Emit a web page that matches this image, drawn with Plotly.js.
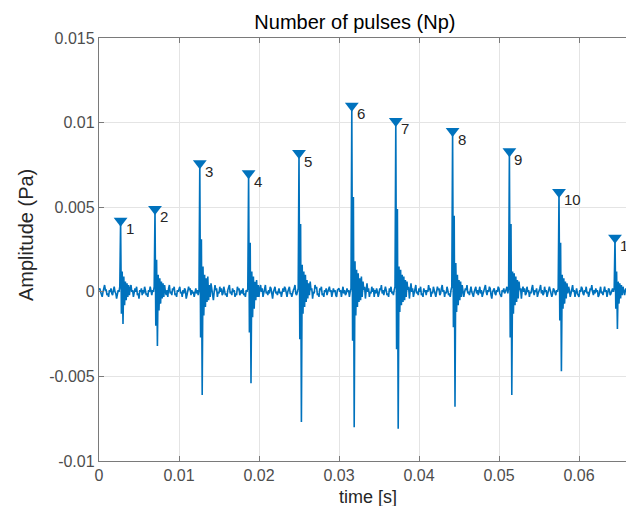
<!DOCTYPE html>
<html>
<head>
<meta charset="utf-8">
<script src="https://cdn.plot.ly/plotly-3.0.1.min.js"></script>
<style>
html, body { margin: 0; padding: 0; overflow: hidden; background: #fff; }
#chart { width: 680px; height: 506px; }
</style>
</head>
<body>
<div id="chart"></div>
<script>
// Sampling interval of the recorded signal (s)
const sampleInterval = 0.0001;

const amplitude_mPa = [
  0.1,0.2,0.0,-0.1,-0.3,0.0,0.2,0.4,0.1,0.1,-0.2,-0.1,-0.3,0.1,0.0,0.2,-0.1,-0.2,0.1,0.3,
  0.0,-0.1,-0.4,-0.1,0.1,0.0,0.3,4.2,-1.3,1.2,-1.9,0.9,-0.8,0.6,-0.5,0.5,-0.3,0.4,-0.2,0.2,
  0.4,0.0,0.1,-0.3,-0.1,0.2,0.0,0.3,-0.2,-0.1,-0.4,0.1,0.0,0.2,-0.2,0.1,-0.1,0.3,0.1,-0.2,
  -0.1,-0.3,0.1,0.0,0.3,-0.1,-0.2,0.1,0.0,0.3,4.9,-2.0,1.9,-3.2,1.0,-1.1,0.8,-0.7,0.6,-0.4,
  0.5,-0.3,0.4,0.0,-0.2,0.1,-0.3,0.2,0.4,-0.1,0.0,-0.2,0.2,0.1,0.3,-0.2,-0.1,-0.3,0.1,0.0,
  0.2,0.3,-0.1,0.0,-0.3,0.1,-0.1,0.2,0.1,-0.4,-0.2,0.0,0.3,0.1,0.2,-0.2,0.1,-0.1,0.0,-0.3,
  0.1,0.2,-0.1,0.1,-0.2,0.1,7.6,-2.7,3.1,-6.1,1.5,-1.4,1.0,-0.9,0.8,-0.6,0.9,-0.5,0.4,-0.3,
  0.5,0.1,-0.2,-0.5,0.0,0.4,0.1,0.2,-0.3,0.0,-0.1,0.3,0.0,0.2,-0.2,-0.1,0.3,0.0,-0.2,-0.1,
  -0.3,0.1,0.2,0.4,-0.1,0.0,-0.2,0.2,0.0,0.1,-0.3,-0.1,-0.2,0.3,0.1,0.2,-0.2,0.0,0.1,-0.1,
  0.2,-0.2,-0.1,-0.3,0.1,0.0,0.2,7.0,-2.4,2.9,-5.4,1.2,-1.5,0.9,-1.0,0.6,-0.5,0.7,-0.3,0.4,
  -0.3,0.2,0.4,0.0,0.2,-0.3,-0.1,0.1,0.4,-0.1,0.0,-0.2,0.1,-0.1,0.3,0.2,-0.2,-0.4,0.0,0.1,
  0.3,-0.1,0.0,-0.2,0.1,0.2,-0.1,0.0,-0.3,-0.1,0.2,0.0,0.3,0.2,-0.1,-0.3,0.0,0.1,0.3,-0.1,
  -0.1,-0.3,0.0,0.1,0.2,0.4,-0.1,-0.2,0.0,0.2,8.2,-2.8,4.0,-7.7,1.6,-1.3,1.2,-0.9,1.0,-0.6,
  0.7,-0.4,0.5,-0.2,0.6,0.1,0.2,-0.4,0.0,-0.1,0.4,0.2,0.3,-0.2,-0.1,-0.3,0.2,0.1,0.3,-0.2,
  -0.1,-0.3,0.1,0.0,0.2,-0.2,0.0,0.1,0.3,0.0,0.1,-0.3,-0.1,0.2,0.0,0.1,-0.2,-0.3,0.1,0.2,
  0.2,0.0,0.1,-0.3,0.0,0.3,-0.1,0.1,-0.2,-0.1,0.2,0.0,0.1,-0.3,0.0,0.2,11.0,-2.9,5.6,-8.0,
  1.8,-1.4,1.3,-0.9,1.1,-0.6,0.8,-0.5,0.9,-0.3,0.6,0.1,0.3,-0.4,0.1,0.5,0.0,0.2,-0.3,0.0,
  -0.1,0.3,0.0,0.2,-0.3,0.1,-0.1,0.2,0.0,-0.3,-0.1,0.2,0.1,0.4,-0.1,0.1,-0.2,0.0,0.3,0.1,
  -0.2,-0.1,-0.3,0.2,0.0,0.3,-0.1,0.0,-0.2,0.1,0.3,10.1,-3.4,4.9,-8.1,1.5,-1.2,1.3,-0.8,1.0,
  -0.6,0.9,-0.5,0.7,-0.3,0.6,0.1,0.3,-0.4,0.1,0.5,0.0,0.2,-0.3,-0.1,0.2,0.4,-0.1,0.0,-0.2,
  0.2,0.0,0.3,-0.2,-0.1,-0.3,0.2,0.0,0.1,-0.2,0.1,0.0,0.4,0.1,0.2,-0.3,0.0,-0.1,0.3,0.1,
  -0.1,-0.3,0.0,0.3,0.1,0.2,-0.2,-0.1,0.2,0.4,0.0,0.1,-0.3,0.0,-0.1,0.3,0.1,-0.2,-0.1,-0.3,
  0.1,0.3,9.5,-2.1,4.5,-6.8,1.7,-1.2,1.0,-0.8,0.7,-0.5,0.6,-0.3,0.4,0.1,-0.3,0.0,0.2,0.1,
  0.4,-0.1,0.0,-0.2,0.1,0.3,0.0,-0.1,-0.3,0.0,0.2,0.3,-0.1,0.1,-0.2,0.0,0.3,-0.1,0.1,-0.3,
  -0.1,0.1,0.2,0.4,0.0,-0.2,0.1,0.0,0.3,0.2,-0.2,-0.4,0.0,0.1,0.2,-0.1,-0.2,0.1,0.0,0.3,
  0.2,-0.1,-0.2,-0.3,0.1,0.0,0.2,-0.1,0.0,0.2,0.3,-0.1,0.2,8.3,-2.7,4.0,-6.1,1.2,-1.3,1.1,
  -0.8,0.9,-0.6,0.7,-0.4,0.6,0.1,0.2,-0.4,0.1,0.3,0.0,0.2,-0.2,-0.1,0.3,0.0,0.1,-0.3,0.0,
  -0.1,0.2,0.4,0.0,-0.2,0.1,0.0,0.2,-0.3,-0.1,0.0,0.2,0.4,-0.1,0.1,-0.2,-0.1,0.3,0.0,0.1,
  -0.3,0.0,0.1,0.3,0.1,0.0,-0.3,-0.1,0.2,0.1,-0.1,-0.2,0.1,0.0,0.2,5.9,-1.7,2.9,-4.7,1.0,
  -1.0,0.8,-0.7,0.6,-0.4,0.5,-0.1,0.3,0.1,-0.3,-0.1,0.2,0.4,0.0,0.1,-0.3,0.0,0.2,-0.1,-0.2,
  -0.3,0.1,0.0,0.3,0.2,-0.1,-0.2,0.1,0.0,0.3,-0.1,0.0,-0.3,-0.1,0.2,0.1,0.4,0.0,-0.2,0.1,
  -0.1,0.2,0.0,0.1,-0.3,-0.2,0.1,0.3,-0.1,0.0,-0.2,0.1,0.3,0.0,0.1,-0.3,0.0,0.2,0.1,-0.2,
  -0.1,0.1,0.2,0.0,0.2,3.2,-1.0,1.2,-2.2,0.6,-0.7,0.5,-0.4,0.4,-0.2,0.3,0.0,-0.2,0.1,0.2,
  0.0,0.2,-0.2,0.1,0.0,0.3,-0.1,0.1,-0.2,0.0,0.2
];

// Detected pulses: sample index of each peak and its label
const peakIndex = [27, 70, 126, 187, 250, 316, 371, 442, 513, 575, 645];
const peakLabels = ["1","2","3","4","5","6","7","8","9","10","11"];

// Axis ticks
const xTickVals = [0, 0.01, 0.02, 0.03, 0.04, 0.05, 0.06];
const xTickText = ["0","0.01","0.02","0.03","0.04","0.05","0.06"];
const yTickVals = [-0.01, -0.005, 0, 0.005, 0.01, 0.015];
const yTickText = ["-0.01","-0.005","0","0.005","0.01","0.015"];

// Build series (unit conversion mPa -> Pa)
const time = amplitude_mPa.map((_, i) => +(i * sampleInterval).toFixed(5));
const amplitude = amplitude_mPa.map(v => v / 1000);
const peakTime = peakIndex.map(i => time[i]);
const peakAmp = peakIndex.map(i => amplitude[i]);

const blue = '#0072BD';
const font = 'Liberation Sans, Arial, Helvetica, sans-serif';

const traces = [
  {
    x: time, y: amplitude, type: 'scatter', mode: 'lines',
    line: { color: blue, width: 1.6 }, hoverinfo: 'skip', showlegend: false
  },
  {
    x: peakTime, y: peakAmp, type: 'scatter', mode: 'markers',
    marker: { symbol: 'triangle-down', size: 12, color: blue },
    hoverinfo: 'skip', showlegend: false
  }
];

const annotations = peakLabels.map((t, k) => ({
  x: peakTime[k], y: peakAmp[k], xref: 'x', yref: 'y',
  text: t, showarrow: false, xanchor: 'left', yanchor: 'middle',
  xshift: 3, yshift: -8,
  font: { family: font, size: 15, color: '#262626' }
}));

// Axis titles placed as in the reference
annotations.push({
  xref: 'paper', yref: 'paper', x: (368 - 99) / 560, y: (461 - 497) / 423,
  xanchor: 'center', yanchor: 'middle', showarrow: false,
  text: 'time [s]', font: { family: font, size: 18, color: '#262626' }
});
annotations.push({
  xref: 'paper', yref: 'paper', x: (26 - 99) / 560, y: (461 - 235) / 423,
  xanchor: 'center', yanchor: 'middle', showarrow: false, textangle: -90,
  text: 'Amplitude (Pa)', font: { family: font, size: 20, color: '#262626' }
});

const axisCommon = {
  showline: true, linecolor: '#7a7a7a', linewidth: 1.2,
  mirror: 'ticks', ticks: 'inside', ticklen: 5, tickcolor: '#7a7a7a', tickwidth: 1,
  showgrid: true, gridcolor: '#e4e4e4', gridwidth: 1,
  zeroline: false, tickmode: 'array',
  tickfont: { family: font, size: 16, color: '#4d4d4d' }
};

const layout = {
  width: 680, height: 506,
  margin: { l: 99, r: 21, t: 38, b: 45 },
  paper_bgcolor: '#fff', plot_bgcolor: '#fff',
  title: {
    text: 'Number of pulses (Np)',
    font: { family: font, size: 20, color: '#000' },
    xref: 'paper', x: 0.457, xanchor: 'center',
    yref: 'container', y: 1 - 22 / 506, yanchor: 'middle'
  },
  xaxis: Object.assign({}, axisCommon, {
    range: [0, 0.07], tickvals: xTickVals, ticktext: xTickText
  }),
  yaxis: Object.assign({}, axisCommon, {
    range: [-0.01, 0.015], tickvals: yTickVals, ticktext: yTickText
  }),
  annotations: annotations
};

Plotly.newPlot('chart', traces, layout, { displayModeBar: false, responsive: false, staticPlot: true });
</script>
</body>
</html>
